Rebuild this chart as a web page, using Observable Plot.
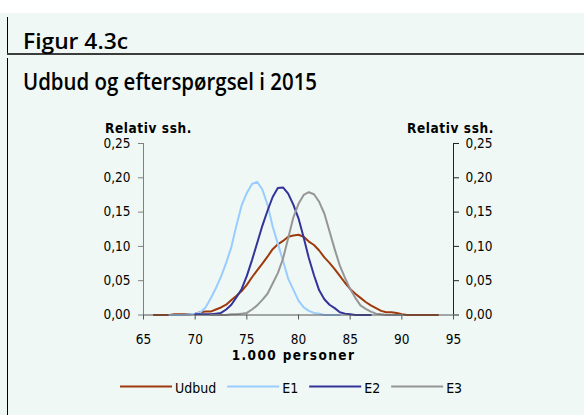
<!DOCTYPE html>
<html><head><meta charset="utf-8">
<script src="https://cdn.jsdelivr.net/npm/d3@7"></script>
<script src="https://cdn.jsdelivr.net/npm/@observablehq/plot@0.6"></script>
<style>
html,body{margin:0;padding:0;}
body{width:584px;height:415px;position:relative;overflow:hidden;background:#fff;}
#bg{position:absolute;left:0;top:13px;width:584px;height:402px;background:#eff8f5;}
#chart{position:absolute;left:0;top:0;}
#chart svg text, #legend text{font-stretch:condensed;}
#deco,#legend{position:absolute;left:0;top:0;}
</style>
</head><body>
<div id="bg"></div>
<svg id="deco" width="584" height="415"></svg>
<div id="chart"></div>
<svg id="legend" width="584" height="415"></svg>
<script>
// ---- data ----
const titleTop = "Figur 4.3c";
const titleMain = "Udbud og efterspørgsel i 2015";
const yLabel = "Relativ ssh.";
const xLabel = "1.000 personer";
const xTicks = [65, 70, 75, 80, 85, 90, 95];
const yTicks = [0, 0.05, 0.10, 0.15, 0.20, 0.25];
const seriesNames = ["Udbud", "E1", "E2", "E3"];
const seriesColors = ["#9e3a0c", "#99ccff", "#333399", "#969696"];
const xGrid = [66, 66.5, 67, 67.5, 68, 68.5, 69, 69.5, 70, 70.5, 71, 71.5, 72, 72.5, 73, 73.5,
  74, 74.5, 75, 75.5, 76, 76.5, 77, 77.5, 78, 78.5, 79, 79.5, 80, 80.5, 81, 81.5,
  82, 82.5, 83, 83.5, 84, 84.5, 85, 85.5, 86, 86.5, 87, 87.5, 88, 88.5, 89, 89.5,
  90, 90.5, 91, 91.5, 92, 92.5, 93, 93.5];
const udbud = [0, 0, 0, 0, 0.001, 0.001, 0.001, 0.001, 0.002, 0.004, 0.005, 0.005, 0.008, 0.011, 0.015, 0.022,
  0.028, 0.035, 0.044, 0.055, 0.065, 0.075, 0.085, 0.096, 0.103, 0.108, 0.114, 0.116, 0.117, 0.114, 0.107, 0.102,
  0.094, 0.084, 0.076, 0.067, 0.057, 0.047, 0.038, 0.031, 0.025, 0.019, 0.014, 0.010, 0.006, 0.004, 0.004, 0.003,
  0.001, 0, 0, 0, 0, 0, 0, 0];
const e1 = [null, null, null, 0, 0, 0, 0, 0.001, 0.002, 0.004, 0.011, 0.024, 0.039, 0.056, 0.076, 0.099,
  0.131, 0.160, 0.178, 0.191, 0.194, 0.183, 0.161, 0.129, 0.104, 0.079, 0.053, 0.037, 0.021, 0.011, 0.006, 0.003,
  0.002, 0, 0, 0, 0, null, null, null, null, null, null, null, null, null, null, null,
  null, null, null, null, null, null, null, null];
const e2 = [null, null, null, null, null, null, null, null, 0.001, 0.001, 0.001, 0.001, 0.002, 0.003, 0.008, 0.015,
  0.026, 0.038, 0.057, 0.080, 0.105, 0.130, 0.152, 0.172, 0.185, 0.186, 0.177, 0.161, 0.141, 0.113, 0.083, 0.058,
  0.036, 0.023, 0.015, 0.010, 0.004, 0.002, 0.001, 0, 0, 0, 0, null, null, null, null, null,
  null, null, null, null, null, null, null, null];
const e3 = [null, null, null, null, null, null, null, null, null, null, null, 0, 0, 0, 0, 0.001,
  0.001, 0.002, 0.003, 0.008, 0.014, 0.022, 0.031, 0.046, 0.061, 0.082, 0.112, 0.142, 0.162, 0.175, 0.179, 0.176,
  0.165, 0.148, 0.122, 0.096, 0.072, 0.054, 0.038, 0.025, 0.014, 0.009, 0.005, 0.002, 0.001, 0, 0, 0,
  0, null, null, null, null, null, null, null];

const seriesValues = [udbud, e1, e2, e3];
const rows = [];
seriesNames.forEach((name, s) => {
  xGrid.forEach((x, i) => {
    const v = seriesValues[s][i];
    if (v !== null) rows.push({name, x, y: v});
  });
});

const fmt = d => d.toFixed(2).replace(".", ",");
const font = '"DejaVu Sans Condensed", "DejaVu Sans", sans-serif';

const chart = Plot.plot({
  width: 584,
  height: 415,
  marginLeft: 143,
  marginRight: 131,
  marginTop: 143,
  marginBottom: 100.5,
  style: {background: "transparent", fontFamily: font, fontSize: "13.5px", color: "#000", overflow: "visible"},
  x: {domain: [xTicks[0], xTicks[xTicks.length - 1]]},
  y: {domain: [yTicks[0], yTicks[yTicks.length - 1]]},
  color: {domain: seriesNames, range: seriesColors},
  marks: [
    Plot.axisY({anchor: "left", ticks: yTicks, tickFormat: fmt, tickSize: 5, tickPadding: 8, label: null, stroke: "#808080", fill: "#000"}),
    Plot.axisY({anchor: "right", ticks: yTicks, tickFormat: fmt, tickSize: 5, tickPadding: 7, label: null, stroke: "#222", fill: "#000"}),
    Plot.axisX({ticks: xTicks, tickFormat: d => String(d), tickSize: 5, tickPadding: 14, label: null, stroke: "#555", fill: "#000"}),
    Plot.ruleX([xTicks[0]], {stroke: "#808080"}),
    Plot.ruleX([xTicks[xTicks.length - 1]], {stroke: "#222"}),
    Plot.line(rows, {x: "x", y: "y", z: "name", stroke: "name", strokeWidth: 2, curve: "linear"}),
    Plot.ruleY([yTicks[0]], {stroke: "#555"}),
    Plot.text([yLabel], {text: d => d, frameAnchor: "top-left", dx: 5, dy: -20, fontWeight: "bold", textAnchor: "middle"}),
    Plot.text([yLabel], {text: d => d, frameAnchor: "top-right", dx: -3, dy: -20, fontWeight: "bold", textAnchor: "middle"}),
    Plot.text([xLabel], {text: d => d, frameAnchor: "bottom", dx: -5, dy: 45, fontWeight: "bold", textAnchor: "middle"})
  ]
});
document.getElementById("chart").appendChild(chart);
d3.select(chart).selectAll("text").filter(function() { return this.textContent === yLabel; }).attr("letter-spacing", 0.6);
d3.select(chart).selectAll("text").filter(function() { return this.textContent === xLabel; }).attr("letter-spacing", 1.4);

// ---- decoration: titles and rules ----
const deco = d3.select("#deco");
deco.append("line").attr("x1", 7.5).attr("x2", 7.5).attr("y1", 17).attr("y2", 53).attr("stroke", "#000");
deco.append("line").attr("x1", 7.5).attr("x2", 7.5).attr("y1", 58).attr("y2", 415).attr("stroke", "#000");
deco.append("line").attr("x1", 7).attr("x2", 584).attr("y1", 54).attr("y2", 54).attr("stroke", "#000").attr("stroke-width", 1.6);
deco.append("text").text(titleTop).attr("x", 23).attr("y", 48.5)
  .attr("font-family", '"Open Sans", sans-serif').attr("font-weight", 600).attr("font-size", 21.5)
  .attr("textLength", 105).attr("lengthAdjust", "spacingAndGlyphs");
deco.append("text").text(titleMain).attr("x", 23).attr("y", 89.5)
  .attr("font-family", '"Open Sans", sans-serif').attr("font-weight", 600).attr("font-size", 24)
  .attr("textLength", 294).attr("lengthAdjust", "spacingAndGlyphs");

// ---- legend ----
const leg = d3.select("#legend");
let lx = 120;
seriesNames.forEach((name, i) => {
  leg.append("line").attr("x1", lx).attr("x2", lx + 52).attr("y1", 386.5).attr("y2", 386.5)
    .attr("stroke", seriesColors[i]).attr("stroke-width", 2);
  const t = leg.append("text").text(name).attr("x", lx + 55).attr("y", 393)
    .attr("font-family", font).attr("font-size", 14).attr("fill", "#000");
  lx += 55 + t.node().getComputedTextLength() + 11;
});
</script>
</body></html>
